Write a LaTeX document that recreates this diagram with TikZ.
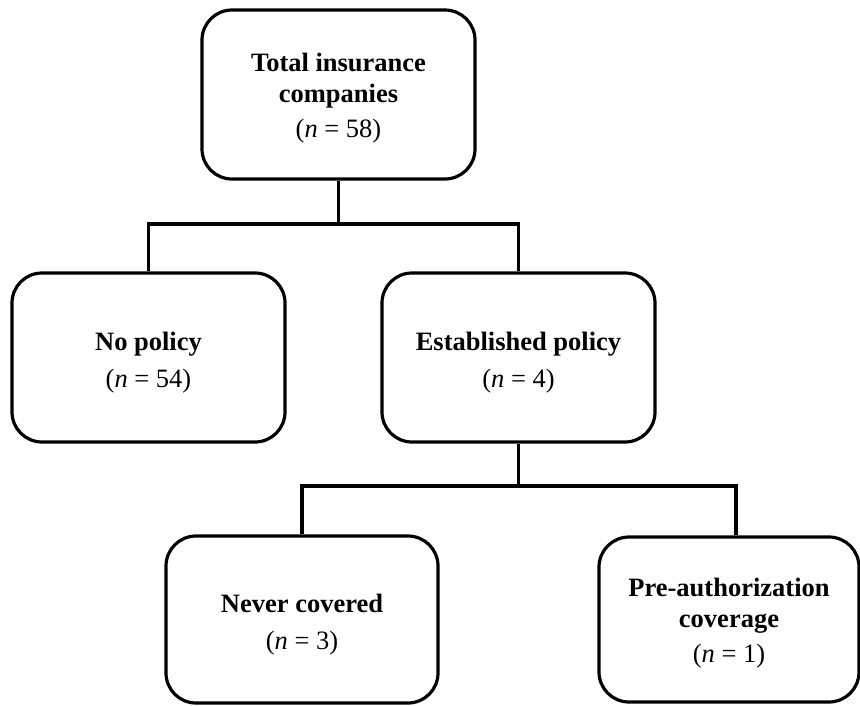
\documentclass[tikz,border=0pt]{standalone}
\usepackage{fontspec}
\setmainfont{Liberation Serif}
\begin{document}
\begin{tikzpicture}[x=1pt,y=-1pt,
  box/.style={draw, line width=3.2pt, rounded corners=30pt, align=center,
    font=\fontsize{26.5}{31}\selectfont, inner sep=0pt},
  link/.style={line width=3.2pt}]
\useasboundingbox (0,0) rectangle (860,705);
\node[box, minimum width=273pt, minimum height=169pt] (total) at (338.5,94.5)
  {\rule{0pt}{25pt}\textbf{Total insurance}\\\textbf{companies}\\[4pt](\textit{n} = 58)};
\node[box, minimum width=273pt, minimum height=169pt] (nopol) at (148.5,357.5)
  {\rule{0pt}{28pt}\textbf{No policy}\\[6pt](\textit{n} = 54)};
\node[box, minimum width=273pt, minimum height=169pt] (estab) at (518.5,357.5)
  {\rule{0pt}{28pt}\textbf{Established policy}\\[6pt](\textit{n} = 4)};
\node[box, minimum width=272pt, minimum height=167pt] (never) at (302,619.5)
  {\rule{0pt}{28pt}\textbf{Never covered}\\[6pt](\textit{n} = 3)};
\node[box, minimum width=260pt, minimum height=165pt] (preauth) at (729,619.5)
  {\rule{0pt}{25pt}\textbf{Pre-authorization}\\\textbf{coverage}\\[4pt](\textit{n} = 1)};
\coordinate (j1) at (338.5,224);
\coordinate (j2) at (518.5,486);
\draw[link] (total.south) -- (j1);
\draw[link] (nopol.north) |- (j1) -| (estab.north);
\draw[link] (estab.south) -- (j2);
\draw[link] (never.north) |- (j2) -| ([xshift=7pt]preauth.north);
\end{tikzpicture}
\end{document}
